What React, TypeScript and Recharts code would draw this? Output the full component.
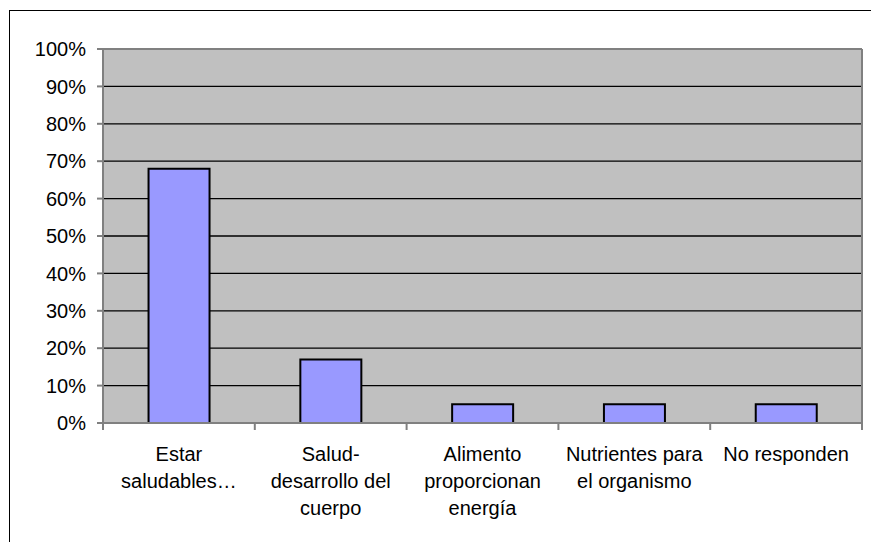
import React from 'react';
import { BarChart, Bar, XAxis, YAxis, CartesianGrid } from 'recharts';

const categories = [
  'Estar saludables…',
  'Salud-desarrollo del cuerpo',
  'Alimento proporcionan energía',
  'Nutrientes para el organismo',
  'No responden',
];
const categoryLines = [
  ['Estar', 'saludables…'],
  ['Salud-', 'desarrollo del', 'cuerpo'],
  ['Alimento', 'proporcionan', 'energía'],
  ['Nutrientes para', 'el organismo'],
  ['No responden'],
];
const values = [0.68, 0.17, 0.05, 0.05, 0.05];
const yTicks = [0, 0.1, 0.2, 0.3, 0.4, 0.5, 0.6, 0.7, 0.8, 0.9, 1];

const data = categories.map((c, i) => ({ name: c, value: values[i] }));

const FONT = '"Liberation Sans", Arial, sans-serif';
const X_TICK = 7;

const XTick = (props: any) => {
  const { x, y, payload, index, visibleTicksCount } = props;
  const half = payload && typeof payload.offset === 'number' ? payload.offset : 0;
  const idx = categories.indexOf(payload?.value);
  const lines = idx >= 0 ? categoryLines[idx] : [String(payload?.value)];
  const axisY = y - X_TICK;
  return (
    <g>
      <line x1={x - half} x2={x - half} y1={axisY} y2={axisY + X_TICK} stroke="#808080" strokeWidth={2} />
      {index === visibleTicksCount - 1 && (
        <line x1={x + half} x2={x + half} y1={axisY} y2={axisY + X_TICK} stroke="#808080" strokeWidth={2} />
      )}
      <text x={x} y={axisY + 38} textAnchor="middle" fontSize={20} fill="#000" fontFamily={FONT}>
        {lines.map((l, i) => (
          <tspan key={i} x={x} dy={i === 0 ? 0 : 27}>
            {l}
          </tspan>
        ))}
      </text>
    </g>
  );
};

export default function App() {
  return (
    <div style={{ position: 'absolute', left: 0, top: 0, width: 871, height: 542, fontFamily: FONT, background: '#fff' }}>
      <div
        style={{
          position: 'absolute',
          left: 9,
          top: 10,
          width: 870,
          height: 540,
          borderLeft: '1px solid #000',
          borderTop: '1px solid #000',
          boxSizing: 'border-box',
        }}
      />
      <div style={{ position: 'absolute', left: 0, top: 0 }}>
        <BarChart
          width={871}
          height={542}
          data={data}
          margin={{ top: 49, right: 9, left: 0, bottom: 0 }}
          barCategoryGap="30%"
        >
          <CartesianGrid vertical={false} fill="#C0C0C0" stroke="#000" strokeWidth={1.3} />
          <CartesianGrid
            stroke="#808080"
            strokeWidth={2}
            horizontalCoordinatesGenerator={({ offset }: any) => [offset.top]}
            verticalCoordinatesGenerator={({ offset }: any) => [offset.left + offset.width]}
          />
          <XAxis
            dataKey="name"
            height={119}
            interval={0}
            tickLine={false}
            tickSize={X_TICK}
            tickMargin={0}
            axisLine={{ stroke: '#808080', strokeWidth: 2 }}
            tick={<XTick />}
          />
          <YAxis
            width={103}
            domain={[0, 1]}
            ticks={yTicks}
            interval={0}
            tickFormatter={(v: number) => `${Math.round(v * 100)}%`}
            axisLine={{ stroke: '#808080', strokeWidth: 2 }}
            tickLine={{ stroke: '#808080', strokeWidth: 2 }}
            tickSize={6}
            tickMargin={11}
            tick={{ fontSize: 20, fill: '#000', fontFamily: FONT }}
          />
          <Bar dataKey="value" fill="#9999FF" stroke="#000" strokeWidth={2} isAnimationActive={false} />
        </BarChart>
      </div>
    </div>
  );
}
